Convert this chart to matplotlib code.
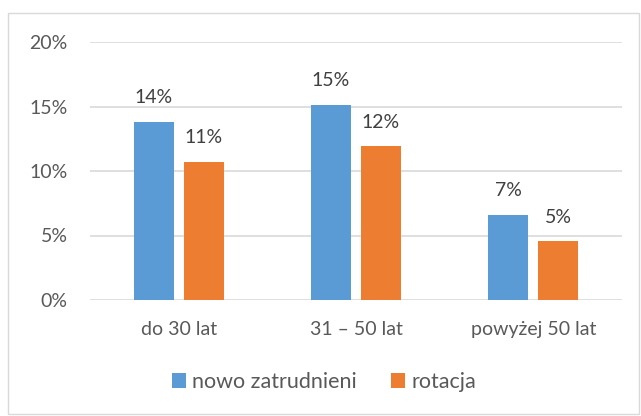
import matplotlib.pyplot as plt
import matplotlib.ticker as ticker
from matplotlib.patches import Rectangle
import numpy as np

categories = ['do 30 lat', '31 – 50 lat', 'powyżej 50 lat']
nowo_zatrudnieni = [13.8, 15.1, 6.6]
rotacja = [10.7, 11.9, 4.55]
series_names = ['nowo zatrudnieni', 'rotacja']

blue = '#5B9BD5'
orange = '#ED7D31'
text_color = '#595959'

plt.rcParams['font.family'] = ['Lato', 'DejaVu Sans']

fig = plt.figure(figsize=(6.41, 4.16), dpi=100)
ax = fig.add_axes([90 / 641, 1 - 300 / 416, 532 / 641, 258 / 416])

# chart border like the Excel chart area
fig.patches.append(Rectangle((8 / 641, 2 / 416), 631 / 641, 401 / 416,
                             transform=fig.transFigure, fill=False,
                             edgecolor='#D9D9D9', linewidth=1))

x = np.arange(len(categories))
width = 0.225
offset = 0.141

b1 = ax.bar(x - offset, nowo_zatrudnieni, width, color=blue, label=series_names[0], zorder=3)
b2 = ax.bar(x + offset, rotacja, width, color=orange, label=series_names[1], zorder=3)

for bars in (b1, b2):
    for rect in bars:
        h = rect.get_height()
        ax.annotate(f'{round(h):.0f}%', (rect.get_x() + rect.get_width() / 2, h),
                    xytext=(0, 13.5), textcoords='offset points',
                    ha='center', va='baseline', fontsize=14, color='#404040')

ax.set_xlim(-0.5, 2.5)
ax.set_ylim(0, 20)
ax.set_yticks([0, 5, 10, 15, 20])
ax.yaxis.set_major_formatter(ticker.FuncFormatter(lambda v, p: f'{v:.0f}%'))
ax.set_xticks(x)
ax.set_xticklabels(categories)
ax.tick_params(axis='both', length=0, labelsize=14, labelcolor=text_color)
ax.tick_params(axis='y', pad=16)
ax.tick_params(axis='x', pad=15)

ax.grid(axis='y', color='#D9D9D9', linewidth=1.2, zorder=0)
for s in ax.spines.values():
    s.set_visible(False)

ax.legend(loc='center', bbox_to_anchor=(324 / 641, 1 - 382 / 416),
          bbox_transform=fig.transFigure, ncol=2, frameon=False,
          fontsize=15.5, labelcolor=text_color, handlelength=0.65, handleheight=0.65,
          handletextpad=0.3, columnspacing=1.6)

fig.savefig('out.png', dpi=100)
